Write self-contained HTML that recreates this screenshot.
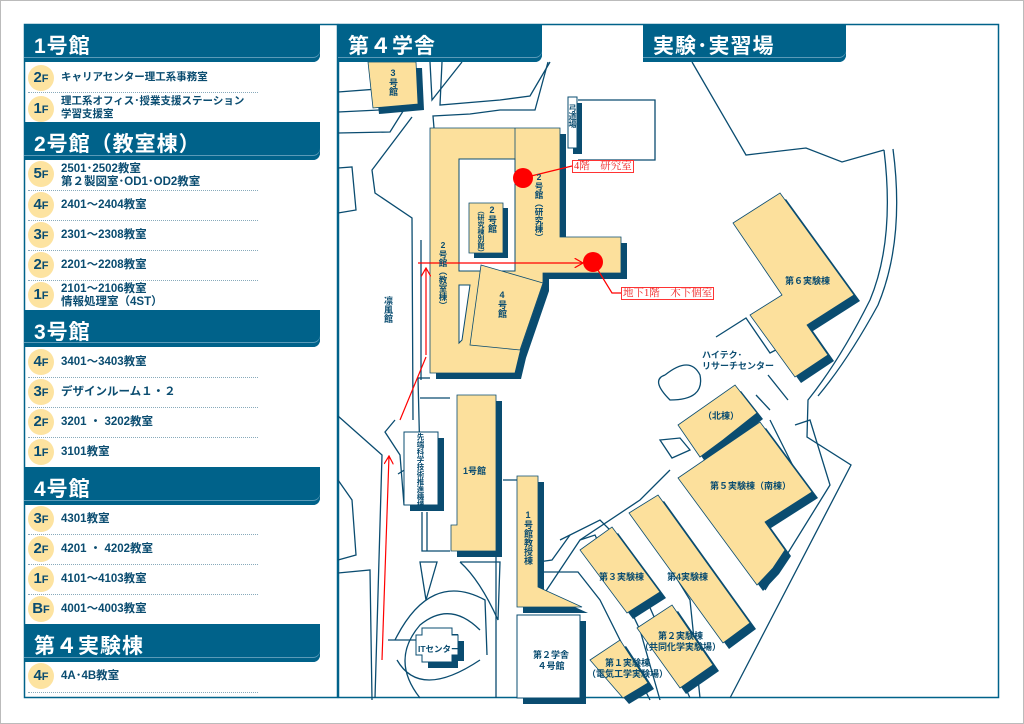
<!DOCTYPE html>
<html><head><meta charset="utf-8"><style>
html,body{margin:0;padding:0;background:#fff;}
body{width:1024px;height:724px;position:relative;overflow:hidden;font-family:"Liberation Sans","Noto Sans CJK JP",sans-serif;}
.pg{position:absolute;left:0;top:0;width:1022px;height:722px;border:1px solid #bbb;}
.hd{position:absolute;background:#00628a;color:#fff;font-weight:bold;border-bottom-right-radius:7px;box-shadow:inset 0 -4px 0 #00628a, inset 0 -5px 0 #5a9ab8;}
.hd span{position:absolute;left:10px;top:6px;font-size:21px;letter-spacing:1px;}
.row{position:absolute;left:28px;width:230px;border-bottom:1px dotted #8ab;}
.fc{position:absolute;left:0;width:26px;height:26px;border-radius:50%;background:#fde3a0;color:#0a4c70;font-weight:bold;font-size:15px;text-align:center;line-height:26px;}
.fc small{font-size:11px;}
.rt{position:absolute;left:33px;color:#0a4c70;font-weight:bold;font-size:11.5px;line-height:13px;white-space:nowrap;}
.v{position:absolute;writing-mode:vertical-rl;text-orientation:upright;color:#0a4c70;font-weight:bold;font-size:9px;line-height:10px;}
.t{position:absolute;color:#0a4c70;font-weight:bold;font-size:9px;line-height:11px;white-space:nowrap;}
.lab{position:absolute;border:1.5px solid #f33;color:#e22;background:#fff;font-family:"Liberation Serif","Noto Serif CJK SC",serif;font-size:10.5px;line-height:11px;padding:0 1px;white-space:nowrap;}
</style></head><body>
<div class="pg"></div>

<svg width="1024" height="724" style="position:absolute;left:0;top:0" xmlns="http://www.w3.org/2000/svg">
<defs>
<marker id="ar" markerWidth="8" markerHeight="8" refX="7" refY="4" orient="auto"><path d="M0,0 L7,4 L0,8" fill="none" stroke="#f00" stroke-width="1"/></marker>
<polygon id="b3" points="368,62 416,62 418,104 373,108"/>
<polygon id="b2" points="430,128 560,128 560,237 621,237 621,273 543,273 543,285 520,352 515,373 430,373"/>
<polygon id="b2b" points="469,203 503,203 503,253 469,253"/>
<polygon id="b1" points="457,395 496,395 496,551 451,551 451,525 457,525"/>
<polygon id="b1k" points="517,476 538,476 538,587 582,607 517,607"/>
<polygon id="e6" points="780,193 854,295 807,325 828,355 795,377 750,315 782,295 733,223"/>
<polygon id="en" points="735,385 757,413 723,440 700,457 678,425"/>
<polygon id="e5" points="760,422 812,492 765,522 785,550 773,568 757,585 678,478"/>
<polygon id="e4" points="658,495 750,623 723,643 629,513"/>
<polygon id="e3" points="612,527 660,592 627,613 580,550"/>
<polygon id="e2" points="672,605 713,665 680,688 637,628"/>
<polygon id="e1" points="620,640 648,683 623,698 590,660"/>
</defs>
<rect x="24.5" y="24.5" width="313" height="673" fill="none" stroke="#00628a" stroke-width="1.5"/>
<rect x="338.5" y="24.5" width="660" height="673" fill="none" stroke="#00628a" stroke-width="1.5"/>
<g fill="none" stroke="#0a4c70" stroke-width="1.3">
<path d="M338,92 L418,86 L420,108 L338,112"/>
<path d="M430,62 L432,100 L462,62"/>
<path d="M442,62 L440,105 L500,100 L530,96 L550,62"/>
<path d="M548,62 L535,110 L500,110 L470,114 L433,116 L434,128"/>
<path d="M412,117 L372,170 L375,193 L412,218 L413,420"/>
<path d="M410,100 L390,132 L338,133"/>
<path d="M338,168 L352,167 L356,210 L338,213"/>
<path d="M421,240 L421,380"/>
<path d="M338,480 L352,500 L356,555 L338,560"/>
<path d="M338,573 L370,570 L372,700"/>
<path d="M395,420 L385,432 L400,455 L404,505"/>
<path d="M338,416 L382,455 L375,698"/>
<path d="M418,378 L420,460 L398,474"/>
<path d="M418,378 L430,378"/>
<path d="M420,398 L450,398"/>
<path d="M422,512 L422,551 L450,551 M427,512 L427,551"/>
<path d="M420,562 L437,562 L426,600 Z"/>
<path d="M460,562 L500,562 L498,620 Q480,580 460,562"/>
<path d="M395,640 Q430,570 485,600 L487,655"/>
<path d="M388,640 L445,640 M397,660 Q420,700 480,660"/>
<path d="M420,698 Q390,660 420,625 Q450,600 480,630"/>
<path d="M496,553 L496,698 M503,480 L517,480"/>
<path d="M538,562 L552,560 L570,535 M538,572 L578,572 L600,600 L650,700"/>
<path d="M560,540 L600,520 L620,540 L690,698"/>
<path d="M692,62 L746,155 L806,148 L842,162 L884,150"/>
<path d="M884,150 Q895,240 870,300 Q840,360 808,400 L807,437 L851,465 L730,698"/>
<path d="M893,149 Q905,240 878,305 Q848,360 818,396"/>
<path d="M578,100 L655,100 L655,160 L578,160"/>
<path d="M716,337 L746,318 L770,353 L795,340"/>
<path d="M768,375 L788,400 M756,395 L770,410"/>
<path d="M665,375 Q690,355 700,375 Q705,400 670,400 Q650,380 665,375"/>
<path d="M660,440 L672,458 L690,450 L680,438 Z"/>
<path d="M795,425 L810,420 L830,485 L765,590 M770,420 L800,480"/>
<path d="M540,600 L580,540 L640,500 L670,470"/>
<path d="M580,540 L595,535 L640,630 L660,700"/>
<path d="M635,510 L690,600 L700,698"/>
</g>
<g fill="#0a4c70" transform="translate(6,6)">
<use href="#b3"/><use href="#b2"/><use href="#b2b"/><use href="#b1"/><use href="#b1k"/>
<use href="#e6"/><use href="#en"/><use href="#e5"/><use href="#e4"/><use href="#e3"/><use href="#e2"/><use href="#e1"/>
<rect x="567" y="97" width="9" height="51"/><rect x="404" y="432" width="34" height="73"/><rect x="517" y="615" width="63" height="83"/>
<polygon points="422,628 452,628 452,635 458,635 458,655 452,655 452,662 422,662 422,655 416,655 416,635 422,635"/>
</g>
<g fill="#fce09c" stroke="#0a4c70" stroke-width="0.8">
<use href="#b3"/><use href="#b2"/><use href="#b1"/><use href="#b1k"/>
<use href="#e6"/><use href="#en"/><use href="#e5"/><use href="#e4"/><use href="#e3"/><use href="#e2"/><use href="#e1"/>
</g>
<g fill="#fff" stroke="#0a4c70" stroke-width="1">
<polygon points="459,159 515,159 515,271 459,271"/>
<polygon points="459,285 470,285 462,340 459,343"/>
<polygon points="568,97 577,97 577,148 568,148"/>
<polygon points="404,432 438,432 438,505 404,505"/>
<polygon points="517,615 580,615 580,698 517,698"/>
<polygon points="422,628 452,628 452,635 458,635 458,655 452,655 452,662 422,662 422,655 416,655 416,635 422,635"/>
</g>
<line x1="515" y1="128" x2="515" y2="159" stroke="#0a4c70" stroke-width="0.8"/>
<g fill="#0a4c70" transform="translate(5,5)"><use href="#b2b"/></g>
<g fill="#fce09c" stroke="#0a4c70" stroke-width="0.8">
<use href="#b2b"/>
<polygon points="481,265 543,283 520,350 470,345"/>
</g>
<g stroke="#f00" stroke-width="1.2" fill="none">
<path d="M382,660 L389,456" marker-end="url(#ar)"/>
<path d="M400,420 L426,357"/>
<path d="M426,355 L426,268" marker-end="url(#ar)"/>
<path d="M418,263 L583,263" marker-end="url(#ar)"/>
<path d="M523,178 L572,166"/>
<path d="M593,262 L612,293 L621,293"/>
</g>
<circle cx="523" cy="178" r="10" fill="#f00"/>
<circle cx="593" cy="262" r="10" fill="#f00"/>
</svg>

<div class="hd" style="left:24px;top:24px;width:296px;height:38px"><span>1号館</span></div>
<div class="hd" style="left:24px;top:122px;width:296px;height:38px"><span>2号館（教室棟）</span></div>
<div class="hd" style="left:24px;top:310px;width:296px;height:37px"><span>3号館</span></div>
<div class="hd" style="left:24px;top:467px;width:296px;height:38px"><span>4号館</span></div>
<div class="hd" style="left:24px;top:624px;width:296px;height:38px"><span>第４実験棟</span></div>
<div class="hd" style="left:338px;top:24px;width:204px;height:38px"><span>第４学舎</span></div>
<div class="hd" style="left:643px;top:24px;width:203px;height:38px"><span>実験･実習場</span></div>

<div class="row" style="top:63px;height:29px"><div class="fc" style="top:2px">2<small>F</small></div><div class="rt" style="top:8px;font-size:10.5px">キャリアセンター理工系事務室</div></div>
<div class="row" style="top:93px;height:29px;border:none"><div class="fc" style="top:3px">1<small>F</small></div><div class="rt" style="top:2px;font-size:10.5px">理工系オフィス･授業支援ステーション<br>学習支援室</div></div>
<div class="row" style="top:161px;height:29px"><div class="fc" style="top:0">5<small>F</small></div><div class="rt" style="top:2px">2501･2502教室<br>第２製図室･OD1･OD2教室</div></div>
<div class="row" style="top:191px;height:29px"><div class="fc" style="top:1px">4<small>F</small></div><div class="rt" style="top:8px">2401～2404教室</div></div>
<div class="row" style="top:221px;height:29px"><div class="fc" style="top:1px">3<small>F</small></div><div class="rt" style="top:8px">2301～2308教室</div></div>
<div class="row" style="top:251px;height:29px"><div class="fc" style="top:1px">2<small>F</small></div><div class="rt" style="top:8px">2201～2208教室</div></div>
<div class="row" style="top:281px;height:29px;border:none"><div class="fc" style="top:1px">1<small>F</small></div><div class="rt" style="top:2px">2101～2106教室<br>情報処理室（4ST）</div></div>
<div class="row" style="top:348px;height:29px"><div class="fc" style="top:1px">4<small>F</small></div><div class="rt" style="top:8px">3401～3403教室</div></div>
<div class="row" style="top:378px;height:29px"><div class="fc" style="top:1px">3<small>F</small></div><div class="rt" style="top:8px">デザインルーム１・２</div></div>
<div class="row" style="top:408px;height:29px"><div class="fc" style="top:1px">2<small>F</small></div><div class="rt" style="top:8px">3201 ・ 3202教室</div></div>
<div class="row" style="top:438px;height:29px;border:none"><div class="fc" style="top:1px">1<small>F</small></div><div class="rt" style="top:8px">3101教室</div></div>
<div class="row" style="top:505px;height:29px"><div class="fc" style="top:1px">3<small>F</small></div><div class="rt" style="top:8px">4301教室</div></div>
<div class="row" style="top:535px;height:29px"><div class="fc" style="top:1px">2<small>F</small></div><div class="rt" style="top:8px">4201 ・ 4202教室</div></div>
<div class="row" style="top:565px;height:29px"><div class="fc" style="top:1px">1<small>F</small></div><div class="rt" style="top:8px">4101～4103教室</div></div>
<div class="row" style="top:595px;height:29px;border:none"><div class="fc" style="top:1px">B<small>F</small></div><div class="rt" style="top:8px">4001～4003教室</div></div>
<div class="row" style="top:663px;height:29px"><div class="fc" style="top:0">4<small>F</small></div><div class="rt" style="top:7px">4A･4B教室</div></div>

<div class="v" style="left:388px;top:68px">3号館</div>
<div class="v" style="left:487px;top:205px">2号館</div>
<div class="v" style="left:476px;top:207px;font-size:7px;line-height:8px">（研究棟別館）</div>
<div class="v" style="left:534px;top:172px;font-size:8.5px">2号館（研究棟）</div>
<div class="v" style="left:438px;top:240px;font-size:8.5px">2号館（教室棟）</div>
<div class="v" style="left:497px;top:290px">4号館</div>
<div class="v" style="left:383px;top:296px">凛風館</div>
<div class="v" style="left:567px;top:104px;font-size:8px">弓道場</div>
<div class="v" style="left:416px;top:433px;font-size:7.5px;line-height:9px">先端科学技術推進機構</div>
<div class="t" style="left:463px;top:466px">1号館</div>
<div class="v" style="left:523px;top:510px">1号館教授棟</div>
<div class="t" style="left:533px;top:650px;text-align:center">第２学舎<br>４号館</div>
<div class="t" style="left:418px;top:644px;font-size:8.5px">ITセンター</div>
<div class="t" style="left:785px;top:276px">第６実験棟</div>
<div class="t" style="left:702px;top:350px">ハイテク･<br>リサーチセンター</div>
<div class="t" style="left:703px;top:411px">（北棟）</div>
<div class="t" style="left:710px;top:481px">第５実験棟（南棟）</div>
<div class="t" style="left:599px;top:572px">第３実験棟</div>
<div class="t" style="left:667px;top:572px">第4実験棟</div>
<div class="t" style="left:640px;top:631px;text-align:center">第２実験棟<br>（共同化学実験場）</div>
<div class="t" style="left:587px;top:658px;text-align:center">第１実験棟<br>（電気工学実験場）</div>
<div class="lab" style="left:572px;top:160px">4階　研究室</div>
<div class="lab" style="left:621px;top:287px">地下1階　木下個室</div>
</body></html>
